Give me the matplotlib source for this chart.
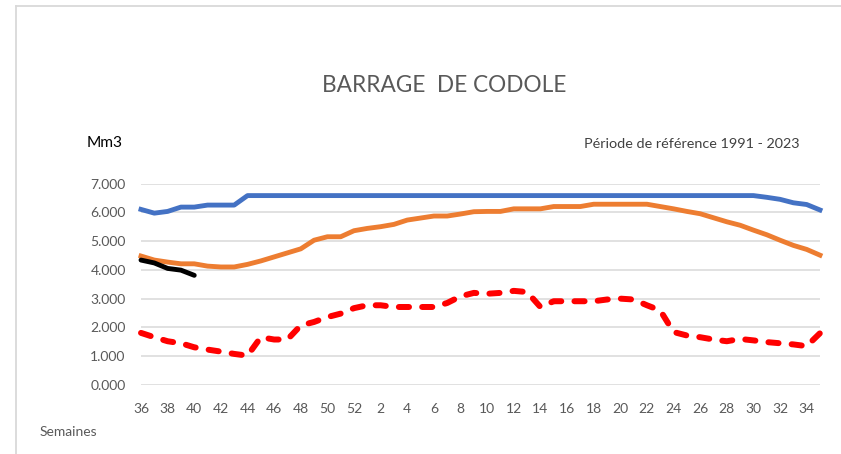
import matplotlib.pyplot as plt
from matplotlib.lines import Line2D

plt.rcParams['font.family'] = ['Lato', 'DejaVu Sans']

# semaines hydrologiques : 36 -> 52 puis 1 -> 35
semaines = [36, 37, 38, 39, 40, 41, 42, 43, 44, 45, 46, 47, 48, 49, 50, 51, 52,
            1, 2, 3, 4, 5, 6, 7, 8, 9, 10, 11, 12, 13, 14, 15, 16, 17, 18, 19, 20,
            21, 22, 23, 24, 25, 26, 27, 28, 29, 30, 31, 32, 33, 34, 35]

# volumes en Mm3
maxi = [6.10, 5.97, 6.03, 6.18, 6.18, 6.25, 6.25, 6.25, 6.58, 6.58, 6.58, 6.58,
        6.58, 6.58, 6.58, 6.58, 6.58, 6.58, 6.58, 6.58, 6.58, 6.58, 6.58, 6.58,
        6.58, 6.58, 6.58, 6.58, 6.58, 6.58, 6.58, 6.58, 6.58, 6.58, 6.58, 6.58,
        6.58, 6.58, 6.58, 6.58, 6.58, 6.58, 6.58, 6.58, 6.58, 6.58, 6.58, 6.52,
        6.45, 6.33, 6.27, 6.08]

moyenne = [4.48, 4.34, 4.27, 4.21, 4.21, 4.13, 4.10, 4.10, 4.19, 4.31, 4.45, 4.59,
           4.73, 5.03, 5.15, 5.15, 5.36, 5.44, 5.50, 5.58, 5.73, 5.80, 5.87, 5.87,
           5.94, 6.02, 6.03, 6.03, 6.12, 6.12, 6.12, 6.20, 6.20, 6.20, 6.28, 6.28,
           6.28, 6.28, 6.28, 6.20, 6.12, 6.03, 5.95, 5.81, 5.67, 5.55, 5.38, 5.22,
           5.03, 4.85, 4.71, 4.51]

mini = [1.81, 1.66, 1.52, 1.45, 1.31, 1.23, 1.16, 1.08, 1.02, 1.66, 1.58, 1.58,
        2.07, 2.19, 2.36, 2.48, 2.67, 2.77, 2.77, 2.71, 2.71, 2.71, 2.71, 2.85,
        3.08, 3.20, 3.17, 3.20, 3.27, 3.23, 2.71, 2.91, 2.91, 2.91, 2.91, 2.97,
        3.00, 2.97, 2.77, 2.59, 1.84, 1.72, 1.66, 1.58, 1.52, 1.60, 1.55, 1.49,
        1.45, 1.41, 1.35, 1.80]

# annee en cours (semaines 36 a 40)
actuel = [4.34, 4.24, 4.05, 3.99, 3.81]

W, H = 841, 454
fig = plt.figure(figsize=(W / 100, H / 100), dpi=100)
ax = fig.add_axes([141 / W, 1 - 385 / H, (820 - 141) / W, (385 - 183.5) / H])

x = list(range(len(semaines)))
ax.plot(x, maxi, color='#4472C4', lw=3.5, solid_joinstyle='round', clip_on=False)
ax.plot(x, moyenne, color='#ED7D31', lw=3.5, solid_joinstyle='round', clip_on=False)
ax.plot(x, mini, color='#FF0000', lw=4.3, dashes=(1.7, 2.2), dash_capstyle='round',
        dash_joinstyle='round', clip_on=False)
ax.plot(x[:len(actuel)], actuel, color='black', lw=3.5, solid_joinstyle='round',
        solid_capstyle='round', clip_on=False)

ax.set_xlim(0, len(semaines) - 1)
ax.set_ylim(0, 7)
ax.set_yticks(range(8))
ax.set_yticklabels([f"{v:.3f}" for v in range(8)])
ax.set_xticks(x[::2])
ax.set_xticklabels([str(s) for s in semaines[::2]])
ax.tick_params(length=0, colors='#595959', labelsize=10)
ax.tick_params(axis='y', pad=11)
ax.tick_params(axis='x', pad=13)
ax.yaxis.grid(True, color='#D9D9D9', lw=1.1)
ax.set_axisbelow(True)
for s in ax.spines.values():
    s.set_visible(False)

fig.text(444 / W, 1 - 86 / H, "BARRAGE  DE CODOLE", ha='center', va='center',
         fontsize=16.3, color='#595959')
fig.text(87 / W, 1 - 143 / H, "Mm3", ha='left', va='center', fontsize=11.2, color='black')
fig.text(799 / W, 1 - 144 / H, "Période de référence 1991 - 2023", ha='right',
         va='center', fontsize=10.4, color='#404040')
fig.text(40 / W, 1 - 432 / H, "Semaines", ha='left', va='center', fontsize=10,
         color='#595959')

# cadre du graphique (coupe a droite et en bas)
fig.add_artist(Line2D([16 / W, 1.0], [1 - 6 / H, 1 - 6 / H], transform=fig.transFigure,
                      color='#D9D9D9', lw=1.3))
fig.add_artist(Line2D([16 / W, 16 / W], [0, 1 - 6 / H], transform=fig.transFigure,
                      color='#D9D9D9', lw=1.3))

fig.savefig('out.png', dpi=100)
